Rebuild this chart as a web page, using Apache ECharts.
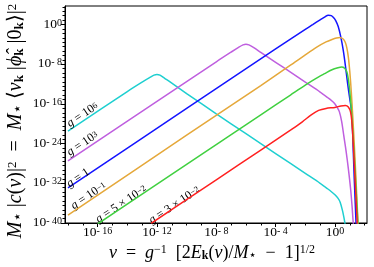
<!DOCTYPE html>
<html><head><meta charset="utf-8">
<script src="https://cdn.jsdelivr.net/npm/echarts@6/dist/echarts.min.js"></script>
<style>html,body{margin:0;padding:0;background:#fff}#c{width:374px;height:267px}</style>
</head><body><div id="c"></div>
<script>
// All values are log10 of the plotted quantities
const cyanNu = [-18, -14, -13, -12.5, -12.2, -12, -11.8, -11.5, -11, -10, -8, -6, -4, -2, -1, -0.5, -0.2, 0, 0.2, 0.35, 0.5, 0.6, 0.7];
const cyanC  = [-21.5, -13.5, -11.6, -10.7, -10.2, -10.05, -10.2, -10.8, -11.8, -13.9, -18, -22, -26, -30, -32, -33.1, -33.8, -34.3, -35.0, -35.8, -37.4, -38.8, -40.5];

const purpleNu = [-18, -12, -8, -7, -6.5, -6.2, -6, -5.8, -5.5, -5, -4, -3, -2, -1, -0.5, -0.2, 0, 0.15, 0.3, 0.45, 0.6, 0.75, 0.9, 1.05, 1.15, 1.22, 1.3];
const purpleC  = [-27.5, -15.5, -7.5, -5.55, -4.6, -4.1, -3.95, -4.1, -4.6, -5.6, -7.6, -9.6, -11.6, -13.6, -14.7, -15.4, -16.0, -16.7, -17.6, -19.5, -22.5, -25.5, -29.0, -33.0, -36.5, -39.5, -42];

const blueNu = [-18, -10, -4, -2, -1.5, -1, -0.7, -0.45, -0.25, -0.1, 0.05, 0.22, 0.4, 0.56, 0.7, 0.85, 1.0, 1.1, 1.18, 1.24, 1.3, 1.36, 1.42, 1.48];
const blueC  = [-32.9, -16.9, -4.9, -0.95, 0.0, 0.95, 1.5, 1.9, 1.8, 1.4, 0.8, -0.4, -2.6, -5.2, -8.2, -11.8, -15.0, -17, -21, -26, -31, -35.5, -40, -44];

const orangeNu = [-18, -10, -5, -3, -2, -1.2, -0.6, -0.2, 0.1, 0.34, 0.55, 0.7, 0.8, 0.9, 1.0, 1.1, 1.2, 1.3, 1.4, 1.5, 1.58];
const orangeC  = [-38.4, -22.3, -12.3, -8.2, -6.1, -4.5, -3.5, -3.0, -2.7, -2.6, -2.9, -3.6, -4.7, -6.5, -9.5, -13.5, -18.5, -24, -30, -36.5, -41.5];

const greenNu = [-16, -10, -5, -3, -2, -1.3, -0.7, -0.2, 0.2, 0.45, 0.65, 0.8, 0.9, 1.0, 1.1, 1.2, 1.3, 1.4, 1.5, 1.58];
const greenC  = [-40.2, -28.2, -18.2, -14.2, -12.2, -10.9, -9.9, -9.1, -8.7, -8.55, -8.8, -9.5, -11, -13.5, -17, -21.5, -26.5, -32, -37.5, -42];

const redNu = [-12.4, -8, -5, -3, -2.2, -1.6, -1.1, -0.6, 0, 0.4, 0.7, 0.9, 1.05, 1.15, 1.25, 1.35, 1.45, 1.55];
const redC  = [-40.1, -31.3, -25.3, -21.3, -19.6, -18.2, -17.3, -16.9, -16.7, -16.4, -16.3, -16.6, -17.6, -20, -25, -31, -37, -43];

const gLabels = ['{i|g}{r| = 10}{s|6}', '{i|g}{r| = 10}{s|3}', '{i|g}{r| = 1}', '{i|g}{r| = 10}{s|−1}', '{i|g}{r| = 5 × 10}{s|−2}', '{i|g}{r| = 3 × 10}{s|−2}'];
const xTickValues = [-16, -12, -8, -4, 0];
const yTickValues = [0, -8, -16, -24, -32, -40];

// layout / style (not data)
const colors = ['#1ecfd0', '#bf5fdf', '#1414ff', '#e5a83a', '#40d040', '#ff2020'];
const labelAnchors = [[-17.0, -18.3], [-17.0, -24.1], [-17.3, -31.0], [-16.6, -34.6], [-14.4, -36.3], [-10.8, -36.5]];
const xRange = [-18.2, 2.16];
const yRange = [-40, 3.74];

const FONT = 'Liberation Serif';
const curves = [[cyanNu, cyanC], [purpleNu, purpleC], [blueNu, blueC], [orangeNu, orangeC], [greenNu, greenC], [redNu, redC]];

function tickLabel(v) {
  if (v === 0) return '{b|10}{s|0}';
  return '{b|10}{s|- ' + (-v) + '}';
}
const tickRich = {
  b: {fontFamily: FONT, fontSize: 13.5, lineHeight: 13, verticalAlign: 'bottom', color: '#000'},
  s: {fontFamily: FONT, fontSize: 10, lineHeight: 10, verticalAlign: 'top', padding: [0, 0, 8, 0], color: '#000'}
};
const gRich = {
  i: {fontFamily: FONT, fontStyle: 'italic', fontSize: 12, lineHeight: 11, verticalAlign: 'bottom', color: '#000'},
  r: {fontFamily: FONT, fontSize: 12, lineHeight: 11, verticalAlign: 'bottom', color: '#000'},
  s: {fontFamily: FONT, fontSize: 8.5, lineHeight: 9, verticalAlign: 'top', padding: [0, 0, 5, 0], color: '#000'}
};

const xMinor = []; for (let k = -18; k <= 2; k++) xMinor.push(k);
const yMinor = []; for (let k = 0; k <= 49; k++) yMinor.push(-40 + k * 8 / 9);

const chart = echarts.init(document.getElementById('c'), null, {renderer: 'canvas'});

const series = curves.map((c, i) => ({
  type: 'line',
  data: c[0].map((x, j) => [x, c[1][j]]),
  showSymbol: false,
  smooth: 0.3,
  lineStyle: {color: colors[i], width: 1.5},
  itemStyle: {color: colors[i]},
  z: 2 + i,
  markPoint: {
    symbol: 'circle', symbolSize: 1, itemStyle: {color: 'rgba(0,0,0,0)'},
    data: [{coord: labelAnchors[i]}],
    label: {show: true, position: 'inside', rotate: 33.7, formatter: gLabels[i], rich: gRich, align: 'center', verticalAlign: 'middle'}
  }
}));

const option = {
  animation: false,
  backgroundColor: '#fff',
  grid: {left: 65, right: 7, top: 6, bottom: 44, show: true, borderColor: '#000', borderWidth: 1, backgroundColor: 'transparent'},
  xAxis: [{
    type: 'value', min: xRange[0], max: xRange[1],
    axisLine: {show: true, onZero: false, lineStyle: {color: '#000', width: 1}},
    axisTick: {show: true, customValues: xTickValues, length: 4, lineStyle: {color: '#000'}},
    axisLabel: {customValues: xTickValues, formatter: tickLabel, rich: tickRich, margin: 3},
    splitLine: {show: false}
  }, {
    type: 'value', min: xRange[0], max: xRange[1], position: 'bottom',
    axisLine: {show: false, onZero: false},
    axisTick: {show: true, customValues: xMinor, length: 2.5, lineStyle: {color: '#000'}},
    axisLabel: {show: false, customValues: xMinor},
    splitLine: {show: false}
  }],
  yAxis: [{
    type: 'value', min: yRange[0], max: yRange[1],
    axisLine: {show: true, onZero: false, lineStyle: {color: '#000', width: 1}},
    axisTick: {show: true, customValues: yTickValues, length: 4, lineStyle: {color: '#000'}},
    axisLabel: {customValues: yTickValues, formatter: tickLabel, rich: tickRich, margin: 3},
    splitLine: {show: false}
  }, {
    type: 'value', min: yRange[0], max: yRange[1], position: 'left',
    axisLine: {show: false, onZero: false},
    axisTick: {show: true, customValues: yMinor, length: 2.5, lineStyle: {color: '#000'}},
    axisLabel: {show: false, customValues: yMinor},
    splitLine: {show: false}
  }],
  series: series,
  graphic: [{
    type: 'text', x: 16, y: 121, rotation: Math.PI / 2,
    style: {
      text: '{i|M}{sb|⋆}{r| |}{i|c}{r|(}{i|ν}{r|)|}{sp|2}{r|  =  }{i|M}{sb|⋆}{r| ⟨}{i|ν}{bk|k}{r| |}{i|ϕ̂}{bk|k}{r| |0}{bk|k}{r|⟩|}{sp|2}',
      align: 'center', verticalAlign: 'middle',
      rich: {
        i: {fontFamily: FONT, fontStyle: 'italic', fontSize: 20, lineHeight: 20, verticalAlign: 'middle', color: '#000'},
        r: {fontFamily: FONT, fontSize: 20, lineHeight: 20, verticalAlign: 'middle', color: '#000'},
        sb: {fontFamily: 'DejaVu Sans', fontSize: 15, lineHeight: 12, verticalAlign: 'bottom', color: '#000'},
        bk: {fontFamily: FONT, fontWeight: 'bold', fontSize: 13, lineHeight: 11, verticalAlign: 'bottom', color: '#000'},
        sp: {fontFamily: FONT, fontSize: 13, lineHeight: 11, verticalAlign: 'top', color: '#000'}
      }
    }
  }, {
    type: 'text', x: 212, y: 253,
    style: {
      text: '{i|ν}{r|  =  }{i|g}{sp|−1}{r|  [2}{i|E}{bk|k}{r|(}{i|ν}{r|)/}{i|M}{sb|⋆}{r|  −  1]}{sp|1/2}',
      align: 'center', verticalAlign: 'middle',
      rich: {
        i: {fontFamily: FONT, fontStyle: 'italic', fontSize: 18, lineHeight: 18, verticalAlign: 'middle', color: '#000'},
        r: {fontFamily: FONT, fontSize: 18, lineHeight: 18, verticalAlign: 'middle', color: '#000'},
        sb: {fontFamily: 'DejaVu Sans', fontSize: 13, lineHeight: 11, verticalAlign: 'bottom', color: '#000'},
        bk: {fontFamily: FONT, fontWeight: 'bold', fontSize: 12, lineHeight: 10, verticalAlign: 'bottom', color: '#000'},
        sp: {fontFamily: FONT, fontSize: 12, lineHeight: 10, verticalAlign: 'top', color: '#000'}
      }
    }
  }]
};
chart.setOption(option);
</script>
</body></html>
